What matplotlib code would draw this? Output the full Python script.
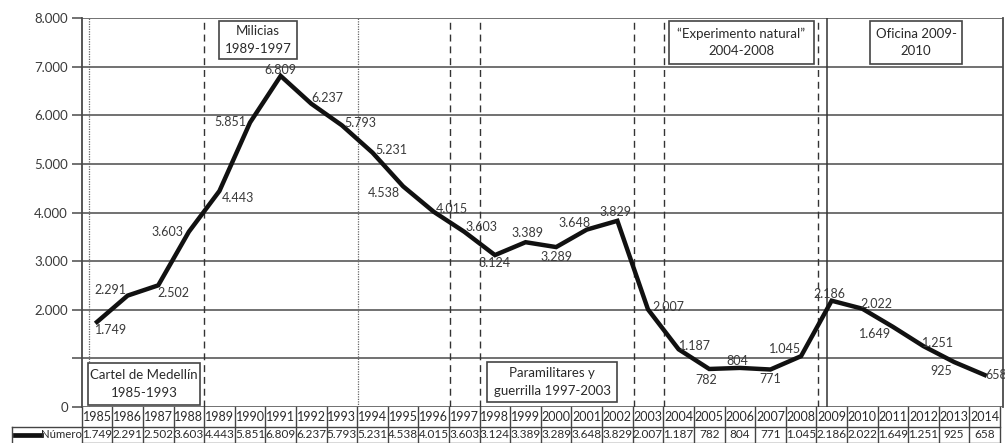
import matplotlib
matplotlib.use("Agg")
import matplotlib.pyplot as plt
from matplotlib import transforms
from matplotlib.patches import Rectangle

plt.rcParams['font.family'] = ['Lato', 'DejaVu Sans']

years = list(range(1985, 2015))
values = [1749, 2291, 2502, 3603, 4443, 5851, 6809, 6237, 5793, 5231, 4538, 4015,
          3603, 3124, 3389, 3289, 3648, 3829, 2007, 1187, 782, 804, 771, 1045,
          2186, 2022, 1649, 1251, 925, 658]
series_name = "Número"
y_ticks = [0, 1000, 2000, 3000, 4000, 5000, 6000, 7000, 8000]
y_ticklabels = ["0", "", "2.000", "3.000", "4.000", "5.000", "6.000", "7.000", "8.000"]

# period boxes: (text, left px, right px, top px, bottom px)
periods = [
    ("Milicias\n1989-1997", 219, 297, 21, 59),
    ("Cartel de Medellín\n1985-1993", 88, 200, 363, 405),
    ("Paramilitares y\nguerrilla 1997-2003", 487, 617, 362, 402),
    ("\u201cExperimento natural\u201d\n2004-2008", 669, 814, 21, 64),
    ("Oficina 2009-\n2010", 870, 962, 21, 64),
]
# vertical separators (category position, style)
vlines = [(-0.27, 'dotted'), (3.5, 'dashed'), (8.52, 'dotted'), (11.53, 'dashed'),
          (12.51, 'dashed'), (17.55, 'dashed'), (18.53, 'dashed'), (23.55, 'dashed'),
          (23.85, 'solid')]

# label offsets in pixels (dx, dy)
offsets = [(14, -8), (-17, 6), (15, -8), (-21, 0), (19, -7), (-20, 0), (0, 6), (16, 6),
           (18, 2), (19, 3), (-19, -7), (18, 3), (17, 5), (0, -8), (2, 9), (0, -10),
           (-12, 7), (-2, 9), (20, 2), (16, 3), (-3, -11), (-3, 7), (0, -9), (-16, 7),
           (-2, 7), (14, 5), (-18, -7), (14, 3), (-13, -9), (12, 0)]

def fmt(v):
    return f"{v:,}".replace(",", ".")

W, H = 1005, 443
fig = plt.figure(figsize=(W / 100, H / 100), dpi=100)
ax_l, ax_r, ax_t, ax_b = 81.7, 1003, 18, 407
ax = fig.add_axes([ax_l / W, 1 - ax_b / H, (ax_r - ax_l) / W, (ax_b - ax_t) / H])
colw = 30.61
ax.set_xlim(-0.5, -0.5 + (ax_r - ax_l) / colw)
ax.set_ylim(0, 8000)

grid_c = '#4a4a4a'
text_c = '#3a3a3a'
for t in y_ticks:
    ax.axhline(t, color=grid_c, lw=1.1, zorder=1)
ax.set_yticks(y_ticks)
ax.set_yticklabels(y_ticklabels, fontsize=9.5, color=text_c)
ax.tick_params(axis='y', length=7, width=1.1, color=grid_c, pad=3)
ax.set_xticks([])
for s in ['top', 'bottom']:
    ax.spines[s].set_visible(False)
ax.spines['left'].set_color(grid_c)
ax.spines['left'].set_linewidth(1.3)
ax.spines['right'].set_color(grid_c)
ax.spines['right'].set_linewidth(1.3)

for xv, st in vlines:
    if st == 'dotted':
        ax.axvline(xv, color='#666666', lw=0.9, ls=(0, (1, 1)), zorder=1)
    elif st == 'dashed':
        ax.axvline(xv, color='#333333', lw=1.0, ls=(0, (5, 3.5)), zorder=1)
    else:
        ax.axvline(xv, color='#333333', lw=1.1, zorder=1)

xs = list(range(len(years)))
ax.plot(xs, values, color='#111111', lw=3.2, solid_joinstyle='miter', zorder=3)

for x, v, (dx, dy) in zip(xs, values, offsets):
    ax.annotate(fmt(v), (x, v), xytext=(dx, dy), textcoords='offset pixels',
                ha='center', va='center', fontsize=9, color=text_c, zorder=4,
                annotation_clip=False)

# period boxes
for txt, l, r, t, b in periods:
    rect = Rectangle((l / W, 1 - b / H), (r - l) / W, (b - t) / H, transform=fig.transFigure,
                     fill=True, facecolor='white', edgecolor='#444444', lw=1.2, zorder=5)
    fig.add_artist(rect)
    fig.text((l + r) / 2 / W, 1 - (t + b) / 2 / H, txt, ha='center', va='center',
             fontsize=9.5, color='#2a2a2a', linespacing=1.55, zorder=6)

# data table under the chart
tr = transforms.blended_transform_factory(ax.transData, fig.transFigure)
row1_top, row_mid, row_bot = 1 - 407 / H, 1 - 426.5 / H, 1 - 443 / H
line_kw = dict(color='#444444', lw=1.0, clip_on=False)
x_left = -0.5
x_right = len(years) - 0.5
for k in range(len(years) + 1):
    ax.plot([k - 0.5, k - 0.5], [row1_top, row_bot], transform=tr, **line_kw)
ax.plot([x_left, x_right], [row_mid, row_mid], transform=tr, **line_kw)
ax.plot([x_left, x_right], [row_bot + 0.001, row_bot + 0.001], transform=tr, **line_kw)
# legend cell
fig.add_artist(plt.Line2D([12 / W, 12 / W], [row_mid, row_bot], color='#444444', lw=1.0))
fig.add_artist(plt.Line2D([12 / W, ax_l / W], [row_mid, row_mid], color='#444444', lw=1.0))
fig.add_artist(plt.Line2D([15 / W, 41 / W], [1 - 435 / H, 1 - 435 / H], color='#111111', lw=3.4))
fig.text(40.5 / W, 1 - 435 / H, series_name, ha='left', va='center', fontsize=8.2, color='#2a2a2a')

for x, yv, v in zip(xs, years, values):
    ax.text(x, 1 - 417 / H, str(yv), transform=tr, ha='center', va='center', fontsize=9,
            color='#2a2a2a', clip_on=False)
    ax.text(x, 1 - 435 / H, fmt(v), transform=tr, ha='center', va='center', fontsize=8.5,
            color='#2a2a2a', clip_on=False)

fig.savefig('out.png', dpi=100)
